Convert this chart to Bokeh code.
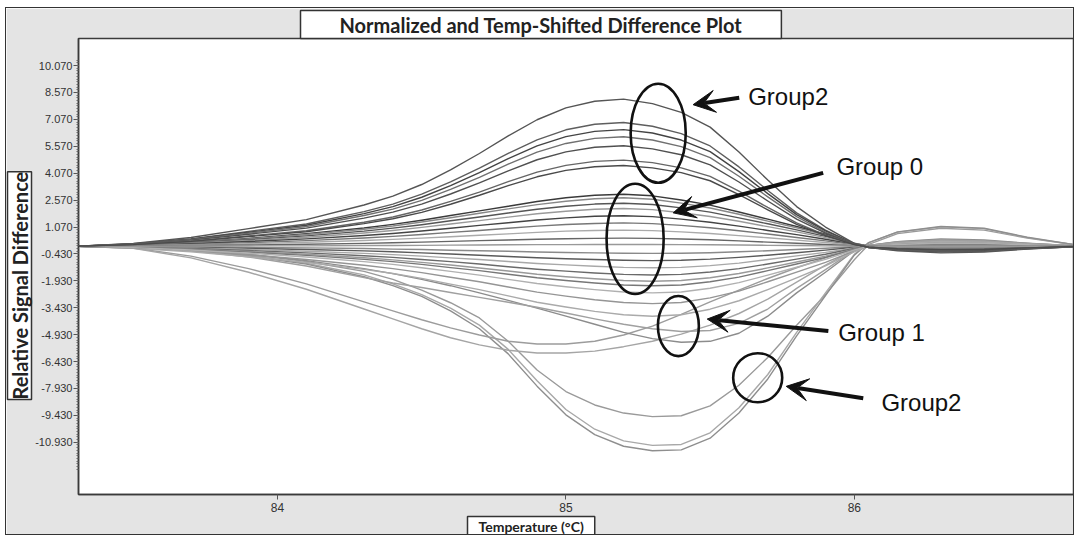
import numpy as np
from bokeh.plotting import figure
from bokeh.models import FixedTicker, PrintfTickFormatter, Label, Arrow, VeeHead, Range1d, Title
from bokeh.embed import file_html
from bokeh.resources import INLINE

# Temperature grid (°C) shared by every difference curve
TEMPS = [83.3, 83.5, 83.7, 83.9, 84.1, 84.3, 84.4, 84.5, 84.6, 84.7, 84.8, 84.9, 85.0, 85.1,
         85.2, 85.3, 85.4, 85.5, 85.6, 85.7, 85.8, 85.9, 86.0, 86.05, 86.15, 86.3, 86.45, 86.6, 86.8]

# Upper Group2 curves (largest positive differences)
GROUP2_UPPER = [
    [0, .16, .49, .98, 1.48, 2.3, 2.79, 3.44, 4.26, 5.17, 6.15, 7.05, 7.71, 8.08, 8.2, 7.95, 7.46, 6.64, 5.25, 3.69, 2.21, 1.07, .16, -.08, -.25, -.37, -.33, -.16, 0],
    [0, .14, .41, .83, 1.24, 1.93, 2.35, 2.9, 3.59, 4.35, 5.18, 5.93, 6.49, 6.8, 6.9, 6.69, 6.28, 5.59, 4.42, 3.11, 1.86, .9, .14, -.07, -.21, -.31, -.28, -.14, 0],
    [0, .13, .39, .78, 1.17, 1.82, 2.21, 2.73, 3.38, 4.1, 4.88, 5.59, 6.11, 6.4, 6.5, 6.31, 5.92, 5.27, 4.16, 2.93, 1.76, .85, .13, -.07, -.2, -.29, -.26, -.13, 0],
    [0, .12, .37, .73, 1.1, 1.71, 2.07, 2.56, 3.17, 3.84, 4.58, 5.25, 5.73, 6.01, 6.1, 5.92, 5.55, 4.94, 3.9, 2.75, 1.65, .79, .12, -.06, -.18, -.27, -.24, -.12, 0],
    [0, .11, .34, .67, 1.01, 1.57, 1.9, 2.35, 2.91, 3.53, 4.2, 4.82, 5.26, 5.52, 5.6, 5.43, 5.1, 4.54, 3.58, 2.52, 1.51, .73, .11, -.06, -.17, -.25, -.22, -.11, 0],
    [0, .1, .29, .58, .86, 1.34, 1.63, 2.02, 2.5, 3.02, 3.6, 4.13, 4.51, 4.73, 4.8, 4.66, 4.37, 3.89, 3.07, 2.16, 1.3, .62, .1, -.05, -.14, -.22, -.19, -.1, 0],
    [0, .09, .27, .54, .81, 1.26, 1.53, 1.89, 2.34, 2.84, 3.38, 3.87, 4.23, 4.43, 4.5, 4.37, 4.1, 3.65, 2.88, 2.03, 1.22, .59, .09, -.05, -.14, -.2, -.18, -.09, 0],
]

# Group 0 curves above the baseline
GROUP0_POS = [
    [0, .09, .23, .44, .7, 1.02, 1.22, 1.45, 1.71, 1.97, 2.23, 2.49, 2.7, 2.84, 2.9, 2.81, 2.58, 2.29, 1.91, 1.51, 1.1, .67, .17, 0, -.09, -.15, -.13, -.06, 0],
    [0, .08, .22, .41, .65, .95, 1.13, 1.35, 1.59, 1.84, 2.08, 2.32, 2.51, 2.65, 2.7, 2.62, 2.4, 2.13, 1.78, 1.4, 1.03, .62, .16, 0, -.08, -.14, -.12, -.05, 0],
    [0, .07, .19, .36, .58, .84, 1.01, 1.2, 1.42, 1.63, 1.85, 2.06, 2.23, 2.35, 2.4, 2.33, 2.14, 1.9, 1.58, 1.25, .91, .55, .14, 0, -.07, -.12, -.11, -.05, 0],
    [0, .06, .17, .32, .5, .74, .88, 1.05, 1.24, 1.43, 1.62, 1.81, 1.95, 2.06, 2.1, 2.04, 1.87, 1.66, 1.39, 1.09, .8, .48, .13, 0, -.06, -.1, -.09, -.04, 0],
    [0, .05, .14, .26, .41, .6, .71, .85, 1.0, 1.16, 1.31, 1.46, 1.58, 1.67, 1.7, 1.65, 1.51, 1.34, 1.12, .88, .65, .39, .1, 0, -.05, -.08, -.08, -.03, 0],
    [0, .04, .1, .2, .31, .46, .55, .65, .77, .88, 1.0, 1.12, 1.21, 1.27, 1.3, 1.26, 1.16, 1.03, .86, .68, .49, .3, .08, 0, -.04, -.06, -.06, -.03, 0],
    [0, .03, .07, .14, .22, .32, .38, .45, .53, .61, .69, .77, .84, .88, .9, .87, .8, .71, .59, .47, .34, .21, .05, 0, -.03, -.05, -.04, -.02, 0],
    [0, .01, .04, .07, .11, .16, .19, .23, .27, .31, .35, .39, .42, .44, .45, .44, .4, .36, .3, .23, .17, .1, .03, 0, -.01, -.02, -.02, -.01, 0],
    [0, 0, .01, .02, .02, .04, .04, .05, .06, .07, .08, .09, .09, .1, .1, .1, .09, .08, .07, .05, .04, .02, .01, 0, 0, 0, 0, 0, 0],
]

# Group 0 curves below the baseline
GROUP0_NEG = [
    [0, -.01, -.03, -.06, -.09, -.13, -.16, -.18, -.22, -.25, -.28, -.32, -.35, -.37, -.39, -.4, -.39, -.36, -.31, -.25, -.18, -.11, -.03, 0, .02, .03, .02, .01, 0],
    [0, -.02, -.06, -.12, -.18, -.26, -.31, -.37, -.43, -.5, -.57, -.64, -.7, -.74, -.78, -.8, -.78, -.72, -.62, -.5, -.36, -.22, -.06, 0, .03, .06, .05, .02, 0],
    [0, -.04, -.1, -.18, -.28, -.4, -.47, -.55, -.65, -.74, -.85, -.96, -1.04, -1.12, -1.18, -1.2, -1.18, -1.08, -.94, -.74, -.54, -.34, -.1, 0, .05, .08, .07, .04, 0],
    [0, -.05, -.13, -.24, -.37, -.53, -.62, -.74, -.86, -.99, -1.14, -1.28, -1.39, -1.49, -1.57, -1.6, -1.57, -1.44, -1.25, -.99, -.72, -.45, -.13, 0, .06, .11, .1, .05, 0],
    [0, -.06, -.16, -.29, -.45, -.64, -.76, -.9, -1.05, -1.21, -1.38, -1.56, -1.7, -1.81, -1.91, -1.95, -1.91, -1.76, -1.52, -1.21, -.88, -.55, -.16, 0, .08, .14, .12, .06, 0],
    [0, -.07, -.18, -.33, -.51, -.73, -.86, -1.01, -1.19, -1.36, -1.56, -1.76, -1.91, -2.05, -2.16, -2.2, -2.16, -1.98, -1.72, -1.36, -.99, -.62, -.18, 0, .09, .15, .13, .07, 0],
    [0, -.08, -.21, -.39, -.6, -.86, -1.01, -1.2, -1.4, -1.61, -1.85, -2.08, -2.26, -2.42, -2.55, -2.6, -2.55, -2.34, -2.03, -1.61, -1.17, -.73, -.21, 0, .1, .18, .16, .08, 0],
]

# Group 1 curves (moderate negative differences)
GROUP1 = [
    [0, -.1, -.55, -1.25, -2.1, -3.1, -3.6, -4.1, -4.55, -4.95, -5.3, -5.45, -5.45, -5.3, -4.95, -4.45, -3.8, -3.1, -2.45, -1.8, -1.2, -.65, -.12, .05, .2, .3, .26, .12, 0],
    [0, -.12, -.65, -1.45, -2.4, -3.5, -4.05, -4.6, -5.1, -5.5, -5.8, -5.95, -5.95, -5.85, -5.6, -5.3, -4.9, -4.4, -3.75, -2.95, -2.0, -1.05, -.2, .05, .25, .36, .31, .15, 0],
    [0, -.05, -.2, -.45, -.8, -1.25, -1.53, -1.85, -2.2, -2.6, -3.02, -3.45, -3.9, -4.35, -4.8, -5.15, -5.35, -5.3, -4.85, -3.9, -2.6, -1.45, -.25, .05, .25, .4, .35, .17, 0],
    [0, -.05, -.25, -.6, -1.1, -1.75, -2.05, -2.3, -2.58, -2.85, -3.12, -3.4, -3.72, -4.05, -4.35, -4.6, -4.75, -4.7, -4.3, -3.5, -2.35, -1.3, -.22, .05, .22, .35, .3, .15, 0],
    [0, -.1, -.26, -.48, -.74, -1.06, -1.25, -1.47, -1.73, -1.98, -2.27, -2.56, -2.78, -2.98, -3.14, -3.2, -3.14, -2.88, -2.5, -1.98, -1.44, -.9, -.26, 0, .13, .22, .19, .1, 0],
    [0, -.12, -.31, -.59, -.9, -1.29, -1.52, -1.79, -2.11, -2.42, -2.77, -3.12, -3.39, -3.63, -3.82, -3.9, -3.82, -3.51, -3.04, -2.42, -1.76, -1.09, -.31, 0, .16, .27, .23, .12, 0],
]

# Lower Group2 curves (largest negative differences)
GROUP2_LOWER = [
    [0, -.05, -.2, -.45, -.85, -1.4, -1.85, -2.45, -3.15, -4.0, -5.3, -6.9, -8.1, -8.85, -9.3, -9.5, -9.45, -8.9, -7.75, -6.2, -4.4, -2.7, -.75, .1, .7, 1.0, .9, .45, 0],
    [0, -.05, -.25, -.5, -.95, -1.6, -2.1, -2.7, -3.45, -4.4, -5.75, -7.5, -9.1, -10.2, -10.85, -11.1, -11.05, -10.4, -9.0, -7.15, -4.8, -2.6, -.45, .2, .78, 1.08, .98, .48, 0],
    [0, -.05, -.25, -.55, -1.0, -1.7, -2.2, -2.8, -3.6, -4.6, -6.0, -7.8, -9.4, -10.5, -11.15, -11.4, -11.35, -10.7, -9.3, -7.4, -5.0, -2.75, -.5, .2, .8, 1.1, 1.0, .5, 0],
]

Y_TICKS = [-10.93, -9.43, -7.93, -6.43, -4.93, -3.43, -1.93, -0.43,
           1.07, 2.57, 4.07, 5.57, 7.07, 8.57, 10.07]
X_TICKS = [84, 85, 86]

TITLE = "Normalized and Temp-Shifted Difference Plot"
X_LABEL = "Temperature (°C)"
Y_LABEL = "Relative Signal Difference"

p = figure(width=1069, height=528, output_backend="svg", toolbar_location=None,
           x_range=Range1d(83.31, 86.76), y_range=Range1d(-13.84, 11.58),
           min_border_left=72, min_border_right=2, min_border_top=30, min_border_bottom=42,
           border_fill_color="#e4e4e4", background_fill_color="white",
           outline_line_color="#3a3a3a", outline_line_width=1.5)
p.margin = (7, 0, 0, 5)
p.styles = {"border": "1px solid #333333"}
p.grid.visible = False

# light curves first, darker ones on top
group_styles = [
    (GROUP2_LOWER, ["#9a9a9a", "#a8a8a8", "#8e8e8e"]),
    (GROUP1, ["#9c9c9c", "#a5a5a5", "#8c8c8c", "#a0a0a0", "#959595", "#aaaaaa"]),
    (GROUP0_NEG, ["#8a8a8a", "#5a5a5a", "#a8a8a8", "#6a6a6a", "#999999", "#777777", "#b0b0b0"]),
    (GROUP0_POS, ["#3a3a3a", "#888888", "#555555", "#9a9a9a", "#444444", "#777777", "#aaaaaa", "#666666", "#999999"]),
    (GROUP2_UPPER, ["#555555", "#5e5e5e", "#444444", "#707070", "#505050", "#666666", "#4a4a4a"]),
]
for curves, colors in group_styles:
    for ys, c in zip(curves, colors):
        p.line(TEMPS, ys, line_color=c, line_width=1.4, line_join="round")

# axes
p.yaxis.ticker = FixedTicker(ticks=Y_TICKS,
                             minor_ticks=list(np.round(np.arange(-12.43, 10.4, 0.15), 3)))
p.yaxis.formatter = PrintfTickFormatter(format="%.3f")
p.xaxis.ticker = FixedTicker(ticks=X_TICKS, minor_ticks=[])
for ax in (p.xaxis, p.yaxis):
    ax.axis_line_color = "#3a3a3a"
    ax.axis_line_width = 1.5
    ax.major_tick_line_color = "#555555"
    ax.major_tick_out = 5
    ax.major_tick_in = 0
    ax.major_label_text_font = "Liberation Sans"
    ax.major_label_text_color = "#333333"
p.yaxis.major_label_text_font_size = "11px"
p.xaxis.major_label_text_font_size = "12px"
p.yaxis.minor_tick_line_color = "#666666"
p.yaxis.minor_tick_out = 2
p.yaxis.minor_tick_in = 0
p.yaxis.major_label_standoff = 1
p.xaxis.major_label_standoff = 3

# boxed title and axis labels
box_kw = dict(background_fill_color="white", border_line_color="#333333", border_line_width=1.5,
              text_font="Lato", text_font_style="bold", text_color="#222222",
              align="left", standoff=0)
p.title = Title(text=TITLE, text_font_size="20px", offset=222, vertical_align="bottom",
                padding=dict(left=39, right=39, top=2, bottom=2), **box_kw)
p.add_layout(Title(text=Y_LABEL, text_font_size="20px", offset=95, vertical_align="middle",
                   text_line_height=1.0,
                   padding=dict(left=0, right=0, top=0, bottom=0), **box_kw), "left")
p.add_layout(Title(text=X_LABEL, text_font_size="14px", offset=389, vertical_align="bottom",
                   padding=dict(left=11, right=11, top=1, bottom=1), **box_kw), "below")

# group highlights
ELLIPSES = [(85.32, 6.30, 0.191, 5.53), (85.24, 0.41, 0.198, 6.15),
            (85.39, -4.45, 0.142, 3.35), (85.665, -7.33, 0.170, 2.74)]
for ex, ey, ew, eh in ELLIPSES:
    p.ellipse(x=ex, y=ey, width=ew, height=eh, fill_color=None,
              line_color="#111111", line_width=2.6)

ARROWS = [(85.601, 8.28, 85.441, 7.89), (85.892, 4.09, 85.372, 1.86),
          (85.910, -4.73, 85.490, -4.06), (86.031, -8.48, 85.764, -7.81)]
for xs, ys, xe, ye in ARROWS:
    p.add_layout(Arrow(x_start=xs, y_start=ys, x_end=xe, y_end=ye, line_width=4,
                       line_color="#111111",
                       end=VeeHead(size=22, fill_color="#111111", line_color="#111111")))

GROUP_TEXT = [("Group2", 85.632, 8.34), ("Group 0", 85.938, 4.43),
              ("Group 1", 85.944, -4.79), ("Group2", 86.094, -8.70)]
for t, tx, ty in GROUP_TEXT:
    p.add_layout(Label(x=tx, y=ty, text=t, text_font="Liberation Sans",
                       text_font_size="24px", text_color="#111111",
                       text_align="left", text_baseline="middle"))

open("out.html", "w").write(file_html(p, INLINE))
